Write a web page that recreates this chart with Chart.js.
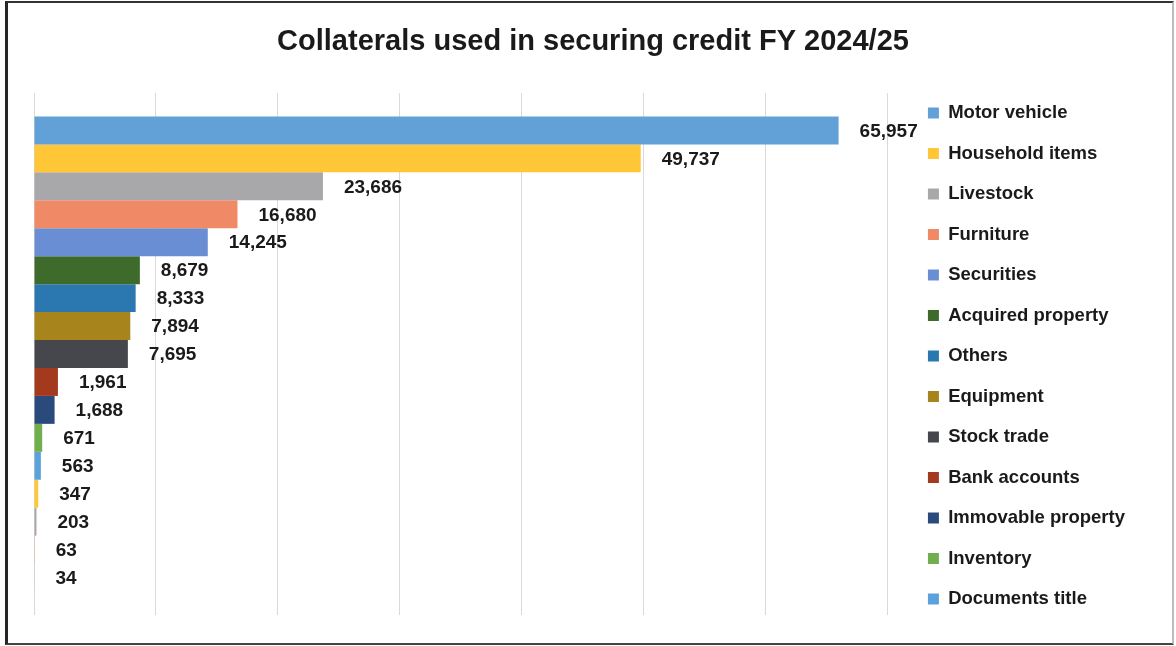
<!DOCTYPE html>
<html>
<head>
<meta charset="utf-8">
<script src="https://cdn.jsdelivr.net/npm/chart.js@4.4.1/dist/chart.umd.min.js"></script>
<style>
html,body{margin:0;padding:0;background:#fff;}
#wrap{position:relative;width:1176px;height:646px;overflow:hidden;}
#c{position:absolute;left:0;top:0;}
#frame{position:absolute;left:5px;top:1px;width:1164px;height:640px;border-left:3px solid #262626;border-top:2px solid #333;border-bottom:2px solid #444;border-right:2px solid #bdbdbd;pointer-events:none;}
</style>
</head>
<body>
<div id="wrap"><canvas id="c" width="1176" height="646"></canvas><div id="frame"></div></div>
<script>
const chartTitle = 'Collaterals used in securing credit FY 2024/25';
// Series names (the last four bars have no visible legend entry in the source)
const categories = ['Motor vehicle','Household items','Livestock','Furniture','Securities','Acquired property','Others','Equipment','Stock trade','Bank accounts','Immovable property','Inventory','Documents title','','','',''];
const values = [65957, 49737, 23686, 16680, 14245, 8679, 8333, 7894, 7695, 1961, 1688, 671, 563, 347, 203, 63, 34];
const barColors = ['#62a0d8','#ffc637','#a8a8ab','#f08a66','#6a8ed4','#3e6b2c','#2b78b0','#a8841c','#45474d','#a33a1e','#294a7a','#70ae4e','#5ba1dc','#ffc637','#a8a8ab','#f08a66','#8da8d8'];
const axisMin = 0, axisMax = 70000, axisStep = 10000;

const FONT = '"Liberation Sans", Arial, sans-serif';
const fmt = v => v.toLocaleString('en-US');

const titlePlugin = {
  id: 'customTitle',
  afterDraw(chart) {
    const ctx = chart.ctx;
    ctx.save();
    ctx.font = 'bold 29px ' + FONT;
    ctx.fillStyle = '#1a1a1a';
    ctx.textAlign = 'center';
    ctx.textBaseline = 'middle';
    ctx.fillText(chartTitle, 593, 42);
    ctx.restore();
  }
};

const valueLabels = {
  id: 'valueLabels',
  afterDatasetsDraw(chart) {
    const ctx = chart.ctx;
    ctx.save();
    ctx.font = 'bold 19px ' + FONT;
    ctx.fillStyle = '#1a1a1a';
    ctx.textAlign = 'left';
    ctx.textBaseline = 'middle';
    chart.data.datasets.forEach((ds, i) => {
      const el = chart.getDatasetMeta(i).data[0];
      if (!el) return;
      ctx.fillText(fmt(ds.data[0]), el.x + 21, el.y + 1);
    });
    ctx.restore();
  }
};

const datasets = values.map((v, i) => ({
  label: categories[i],
  data: [v],
  backgroundColor: barColors[i],
  borderWidth: 0,
  categoryPercentage: 0.91,
  barPercentage: 1.0
}));

new Chart(document.getElementById('c'), {
  type: 'bar',
  data: { labels: [''], datasets },
  plugins: [titlePlugin, valueLabels],
  options: {
    indexAxis: 'y',
    responsive: false,
    animation: false,
    layout: { padding: { left: 34, right: 41, top: 66, bottom: 0 } },
    plugins: {
      title: { display: false },
      tooltip: { enabled: false },
      legend: {
        position: 'right',
        labels: {
          boxWidth: 11,
          boxHeight: 11,
          padding: 22,
          color: '#1a1a1a',
          font: { family: FONT, size: 18.5, weight: 'bold' },
          filter: item => item.text !== ''
        }
      }
    },
    scales: {
      x: {
        type: 'linear',
        min: axisMin, max: axisMax,
        ticks: { display: false, stepSize: axisStep },
        grid: { color: '#d9d9d9', lineWidth: 1, drawTicks: false },
        border: { display: false },
        afterFit: s => { s.height = 31; }
      },
      xTop: {
        type: 'linear', position: 'top', display: true,
        ticks: { display: false }, grid: { display: false }, border: { display: false },
        afterFit: s => { s.height = 27; }
      },
      y: { display: false },
      yRight: {
        type: 'linear', position: 'right', display: true,
        ticks: { display: false }, grid: { display: false }, border: { display: false },
        afterFit: s => { s.width = 18; }
      }
    }
  }
});
</script>
</body>
</html>
